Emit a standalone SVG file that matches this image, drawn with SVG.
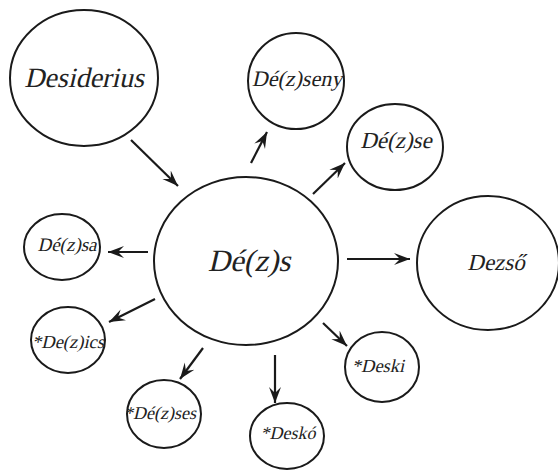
<svg xmlns="http://www.w3.org/2000/svg" width="558" height="470" viewBox="0 0 558 470">
<style>
.n ellipse{fill:#fff;stroke:#1a1a1a;stroke-width:2}
.c line{stroke:#1a1a1a;stroke-width:2.2}
</style>
<defs>
<marker id="ah" markerUnits="userSpaceOnUse" markerWidth="18" markerHeight="14" refX="16" refY="6" orient="auto" viewBox="0 0 18 12">
<path d="M0,0 L16,6 L0,12 L6,6 Z" fill="#1a1a1a"/>
</marker>
</defs>
<g class="c" id="connectors">
<line x1="131" y1="140" x2="178" y2="186" marker-end="url(#ah)"/>
<line x1="251" y1="163" x2="267" y2="132" marker-end="url(#ah)"/>
<line x1="313" y1="194" x2="345" y2="163" marker-end="url(#ah)"/>
<line x1="347" y1="259" x2="410" y2="259" marker-end="url(#ah)"/>
<line x1="148" y1="252" x2="108" y2="252" marker-end="url(#ah)"/>
<line x1="155" y1="299" x2="109" y2="322" marker-end="url(#ah)"/>
<line x1="203" y1="348" x2="180" y2="379" marker-end="url(#ah)"/>
<line x1="275" y1="355" x2="275" y2="403" marker-end="url(#ah)"/>
<line x1="323" y1="323" x2="347" y2="346" marker-end="url(#ah)"/>
</g>
<g fill="#222" text-anchor="middle">
<g class="n" id="desiderius"><ellipse cx="84" cy="78" rx="74" ry="68"/><text transform="translate(84,87) skewX(-13)" font-size="28" font-family="Liberation Serif" font-style="normal">Desiderius</text></g>
<g class="n" id="dezseny"><ellipse cx="296" cy="81" rx="48" ry="48"/><text transform="translate(297,86) skewX(-13)" font-size="22" font-family="Liberation Serif" font-style="normal">Dé(z)seny</text></g>
<g class="n" id="dezse"><ellipse cx="395" cy="147" rx="48" ry="43"/><text transform="translate(396,148) skewX(-13)" font-size="23" font-family="Liberation Serif" font-style="normal">Dé(z)se</text></g>
<g class="n" id="dezs"><ellipse cx="246" cy="261" rx="92" ry="84"/><text transform="translate(249,271) skewX(-13)" font-size="31" font-family="Liberation Serif" font-style="normal">Dé(z)s</text></g>
<g class="n" id="dezso"><ellipse cx="488" cy="263" rx="71" ry="67"/><text transform="translate(496,270) skewX(-13)" font-size="23" font-family="Liberation Serif" font-style="normal">Dezső</text></g>
<g class="n" id="dezsa"><ellipse cx="62" cy="247" rx="38" ry="33"/><text transform="translate(67,251) skewX(-13)" font-size="19" font-family="Liberation Serif" font-style="normal">Dé(z)sa</text></g>
<g class="n" id="dezics"><ellipse cx="68" cy="340" rx="37" ry="33"/><text transform="translate(68,348) skewX(-13)" font-size="18.5" font-family="Liberation Serif" font-style="normal">*De(z)ics</text></g>
<g class="n" id="dezses"><ellipse cx="164" cy="414" rx="37" ry="34"/><text transform="translate(160,419) skewX(-13)" font-size="18" font-family="Liberation Serif" font-style="normal">*Dé(z)ses</text></g>
<g class="n" id="desko"><ellipse cx="287" cy="436" rx="37" ry="33"/><text transform="translate(288,439) skewX(-13)" font-size="18" font-family="Liberation Serif" font-style="normal">*Deskó</text></g>
<g class="n" id="deski"><ellipse cx="382" cy="367" rx="37" ry="35"/><text transform="translate(378,372) skewX(-13)" font-size="18.5" font-family="Liberation Serif" font-style="normal">*Deski</text></g>
</g>
</svg>
